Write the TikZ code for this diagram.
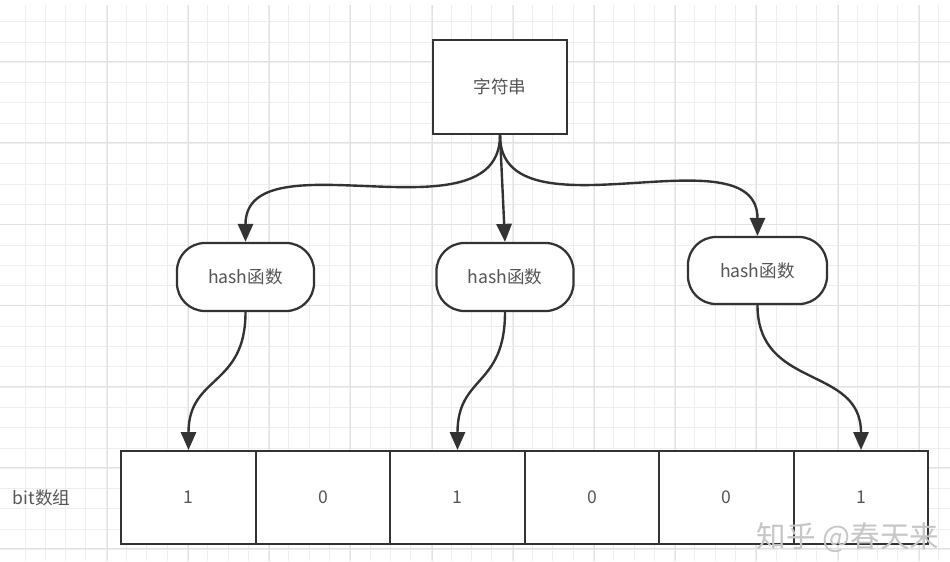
\documentclass[tikz,border=0pt]{standalone}
\usepackage{fontspec}
\setmainfont{Noto Sans CJK SC}
\usepackage{xcolor}
\usepackage{tikz}
\usetikzlibrary{arrows.meta}
\definecolor{gridminor}{RGB}{238, 238, 238}
\definecolor{gridmajor}{RGB}{226, 226, 226}
\definecolor{linedark}{RGB}{51, 51, 51}
\definecolor{labelgray}{RGB}{85, 85, 85}

\begin{document}
\begin{tikzpicture}[x=0.025cm, y=-0.025cm,
    box/.style={draw=linedark, line width=1.6pt, fill=white, text=labelgray,
        font=\fontsize{12.5}{15}\selectfont},
    hashbox/.style={box, rounded corners=0.7cm, minimum width=3.425cm, minimum height=1.7cm},
    cell/.style={box, line width=1.4pt, minimum width=3.3625cm, minimum height=2.325cm},
    link/.style={linedark, line width=1.7pt, -{Triangle[length=0.45cm, width=0.38cm]}}]
    \useasboundingbox (0,0) rectangle (950,561);
    \clip (0,0) rectangle (950,561);

    % Background grid
    \foreach \i in {0,...,45}
        \draw[gridminor, line width=0.6pt] ({25+20.3*\i},5) -- ({25+20.3*\i},561);
    \foreach \j in {0,...,27}
        \draw[gridminor, line width=0.6pt] (0,{21.7+20.3*\j}) -- (950,{21.7+20.3*\j});
    \foreach \i in {0,...,10}
        \draw[gridmajor, line width=0.7pt] ({107.3+81.2*\i},5) -- ({107.3+81.2*\i},561);
    \foreach \j in {0,...,6}
        \draw[gridmajor, line width=0.7pt] (0,{61.7+81.2*\j}) -- (950,{61.7+81.2*\j});

    % String and hash functions
    \node[box, minimum width=3.35cm, minimum height=2.35cm] (str) at (500,87) {字符串};
    \node[hashbox] (h1) at (245.5,277) {hash函数};
    \node[hashbox] (h2) at (505,277) {hash函数};
    \node[hashbox, minimum width=3.475cm, minimum height=1.675cm] (h3) at (757.5,270.5) {hash函数};

    % Bit array
    \node[text=labelgray, font=\fontsize{12.5}{15}\selectfont, anchor=west] (lbl) at (8,498) {bit数组};
    \foreach \v [count=\k] in {1,0,1,0,0,1}
        \node[cell] (c\k) at ({188.5+134.5*(\k-1)},497.5) {\v};

    % Arrows
    \draw[link] (str.south) .. controls +(0,108) and +(0,-108) .. (h1.north);
    \draw[link] (str.south) -- (h2.north);
    \draw[link] (str.south) .. controls +(0,108) and +(0,-108) .. (h3.north);
    \draw[link] (h1.south) .. controls +(0,75) and +(0,-75) .. (c1.north);
    \draw[link] (h2.south) .. controls +(0,75) and +(0,-75) .. (c3.north);
    \draw[link] (h3.south) .. controls +(0,85) and +(0,-85) .. (c6.north);

    % Watermark
    \node[text=gray!45, font=\fontsize{21}{21}\selectfont, anchor=west] (wm) at (752,538) {知乎 @春天来};
\end{tikzpicture}
\end{document}
